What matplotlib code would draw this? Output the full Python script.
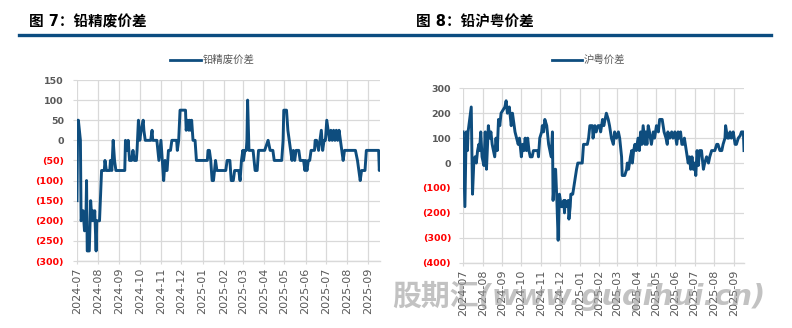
import numpy as np
import pandas as pd
import matplotlib
matplotlib.use("Agg")
import matplotlib.pyplot as plt
from matplotlib.lines import Line2D

plt.rcParams['font.family'] = ['DejaVu Sans', 'Noto Sans CJK SC']

START = pd.Timestamp("2024-07-01")

# 铅精废价差: day offset from 2024-07-01, spread (元/吨)
lead_days = [0, 1, 2, 5, 6, 9, 11, 13, 14, 15, 18, 20, 22, 23, 25, 26, 28, 29, 33, 36,
             40, 41, 43, 48, 49, 51, 53, 55, 57, 70, 71, 73, 75, 77, 80, 82, 84, 87, 88, 90,
             92, 94, 97, 98, 100, 108, 110, 111, 117, 120, 123, 125, 127, 129, 130, 132, 134, 137, 139, 146,
             147, 149, 151, 159, 160, 162, 164, 165, 167, 168, 170, 173, 175, 191, 192, 194, 196, 198, 200, 203,
             205, 218, 220, 224, 226, 229, 231, 237, 239, 241, 243, 244, 246, 248, 249, 250, 252, 258, 261, 264,
             266, 275, 278, 280, 283, 287, 289, 300, 302, 303, 307, 309, 311, 313, 315, 317, 319, 321, 325, 327,
             332, 334, 335, 337, 339, 341, 343, 348, 349, 351, 354, 356, 358, 360, 362, 364, 366, 368, 370, 372,
             374, 376, 378, 380, 382, 384, 386, 388, 390, 392, 408, 411, 415, 417, 422, 424, 442, 443, 444]
lead_spread = [-150, 50, 50, 0, -200, -175, -225, -200, -100, -275, -275, -150, -200, -175, -200, -175, -275, -200, -200, -75,
               -75, -50, -75, -75, -50, -75, 0, -50, -75, -75, 0, -25, 0, -50, -50, -25, -50, -50, -25, 50,
               0, 25, 50, 25, 0, 0, 25, 0, 0, -50, 0, -50, -100, -50, -75, -75, -25, -25, 0, 0,
               -25, 0, 75, 75, 25, 50, 25, 50, 25, 50, 0, 0, -50, -50, -25, -25, -50, -100, -100, -50,
               -75, -75, -50, -50, -100, -100, -75, -75, -100, -50, -25, -50, -25, -25, 0, 100, -25, -25, -75, -75,
               -25, -25, -10, 0, -25, -25, -50, -50, 0, 75, 75, 25, 0, -25, -50, -25, -50, -25, -25, -50,
               -50, -75, -50, -75, -50, -50, -25, -25, 0, 0, -25, 0, 25, -25, 0, 0, 50, 25, 0, 25,
               0, 25, 0, 25, 0, 25, 0, -25, -50, -25, -25, -50, -100, -75, -75, -25, -25, -75, -50]

# 沪粤价差
sh_days = [0, 3, 5, 7, 8, 13, 15, 17, 19, 21, 23, 25, 26, 28, 30, 33, 35, 37, 40, 42,
           44, 46, 48, 50, 52, 54, 56, 58, 60, 66, 68, 70, 73, 74, 76, 78, 82, 87, 89, 92,
           94, 96, 98, 100, 102, 104, 106, 109, 111, 118, 119, 121, 124, 125, 127, 129, 132, 135, 137, 139,
           141, 142, 145, 146, 148, 150, 152, 155, 157, 159, 160, 161, 163, 166, 167, 169, 170, 173, 176, 179,
           181, 188, 190, 196, 198, 200, 204, 205, 208, 210, 213, 216, 217, 220, 222, 226, 229, 231, 234, 237,
           239, 242, 245, 247, 250, 251, 255, 258, 259, 261, 264, 266, 267, 269, 271, 273, 276, 278, 280, 282,
           284, 287, 288, 290, 292, 294, 297, 300, 302, 305, 308, 310, 314, 317, 320, 322, 323, 326, 329, 331,
           334, 337, 339, 341, 343, 345, 347, 349, 352, 355, 357, 359, 361, 363, 365, 367, 369, 371, 373, 376,
           379, 381, 384, 387, 389, 392, 397, 400, 402, 405, 408, 410, 413, 414, 417, 419, 421, 423, 426, 429,
           431, 434, 437, 439, 442, 443]
sh_spread = [125, -175, 125, 50, 125, 225, -125, 0, 25, 0, 50, 75, 50, 125, 25, -10, 125, -25, 150, 100,
             125, 75, 50, 25, 100, 50, 175, 150, 200, 225, 250, 200, 225, 200, 150, 200, 125, 75, 100, 25,
             75, 50, 100, 50, 100, 50, 25, 25, 50, 50, 25, 100, 125, 150, 125, 175, 150, 75, 50, 25,
             125, -150, -25, -25, -150, -310, -125, -175, -175, -150, -200, -150, -175, -150, -225, -175, -125, -125, -75, -25,
             0, 0, 75, 75, 100, 150, 150, 100, 150, 125, 150, 150, 125, 175, 150, 200, 175, 150, 100, 75,
             125, 100, 125, 100, 25, -50, -50, -25, 0, -25, 25, 50, 0, 50, 75, 50, 100, 50, 125, 75,
             150, 75, 125, 75, 150, 125, 75, 125, 100, 150, 125, 175, 175, 125, 100, 75, 125, 100, 125, 100,
             125, 75, 125, 100, 125, 75, 75, 100, 50, 0, 25, -25, 25, -25, 0, -50, 50, -10, 50, 50,
             -25, 0, 25, 0, 25, 50, 50, 75, 75, 50, 50, 75, 100, 150, 100, 100, 125, 100, 125, 75,
             75, 100, 110, 125, 125, 50]

lead_ticks = [150, 100, 50, 0, -50, -100, -150, -200, -250, -300]
sh_ticks = [300, 200, 100, 0, -100, -200, -300, -400]
months = pd.date_range("2024-07-01", "2025-09-01", freq="MS")

LINE = "#0E4D7E"
GRID = "#D9D9D9"
W, H = 792, 328


def fx(px):
    return px / W


def fy(px):
    return 1 - px / H


def panel(rect, days, vals, ticks, x_end, ypad):
    ax = fig.add_axes(rect)
    dates = START + pd.to_timedelta(days, unit="D")
    ax.plot(dates, vals, color=LINE, lw=2.1, zorder=3)
    ax.set_ylim(ticks[-1], ticks[0])
    ax.set_yticks(ticks)
    ax.set_yticklabels([str(t) if t >= 0 else f"({-t})" for t in ticks],
                       fontsize=6.8, fontweight="bold")
    for lab, t in zip(ax.get_yticklabels(), ticks):
        lab.set_color("#FF0000" if t < 0 else "#595959")
    ax.set_xticks(months)
    ax.set_xticklabels(months.strftime("%Y-%m"), rotation=90, fontsize=8, color="#595959")
    ax.set_xlim(START, START + pd.Timedelta(days=x_end))
    ax.grid(True, color=GRID, lw=0.9)
    ax.set_axisbelow(True)
    for s in ["top", "right", "left"]:
        ax.spines[s].set_visible(False)
    ax.spines["bottom"].set_color(GRID)
    ax.spines["bottom"].set_linewidth(1.0)
    ax.tick_params(axis="y", length=3, color=GRID, pad=ypad)
    ax.tick_params(axis="x", length=2, color=GRID, pad=3)
    return ax


fig = plt.figure(figsize=(W / 100, H / 100), dpi=100)

# 左图：铅精废价差
panel([fx(77), fy(261), fx(380) - fx(77), fy(80) - fy(261)],
      lead_days, lead_spread, lead_ticks, 444, 6.5)
# 右图：沪粤价差
panel([fx(463), fy(262.7), fx(744) - fx(463), fy(88.3) - fy(262.7)],
      sh_days, sh_spread, sh_ticks, 443, 5.5)

# titles and the blue rule underneath
fig.text(fx(29), fy(22), "图 7：铅精废价差", fontsize=10.5, fontweight="bold",
         va="center", ha="left", color="black")
fig.text(fx(416), fy(22), "图 8：铅沪粤价差", fontsize=10.5, fontweight="bold",
         va="center", ha="left", color="black")
fig.add_artist(Line2D([fx(19), fx(771)], [fy(35), fy(35)], color="#0B4C80", lw=2.4))

# legends
for x0, x1, label in [(170, 201, "铅精废价差"), (552, 582, "沪粤价差")]:
    fig.add_artist(Line2D([fx(x0), fx(x1)], [fy(60), fy(60)], color=LINE, lw=2.0))
    fig.text(fx(x1 + 2), fy(60), label, fontsize=7.5, color="#595959", va="center", ha="left")

# watermark
fig.text(fx(392), fy(296), "股期汇(www.guqihui.cn)", fontsize=20.8, fontweight="bold",
         style="italic", color="#9A9A9A", alpha=0.6, va="center", ha="left", zorder=10)

fig.savefig("out.png", dpi=100)
